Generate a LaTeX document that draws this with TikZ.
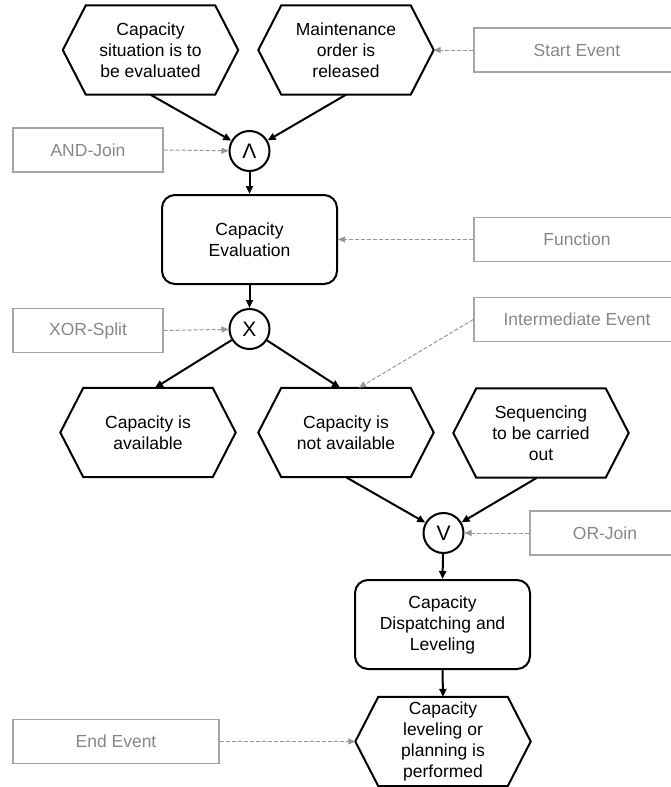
\documentclass[tikz,border=0pt]{standalone}
\usepackage{fontspec}
\setmainfont{Liberation Sans}
\usetikzlibrary{arrows.meta}
\definecolor{anntext}{RGB}{135,135,135}
\definecolor{annline}{RGB}{165,165,165}
\definecolor{anndash}{RGB}{150,150,150}
\begin{document}
\begin{tikzpicture}[x=1pt,y=-1pt,
  font=\fontsize{17.5}{21}\selectfont,
  evt/.style={minimum width=175pt,minimum height=89pt,inner sep=0pt,align=center},
  evline/.style={line width=2pt,line join=miter},
  fun/.style={draw,line width=2pt,rounded corners=13pt,minimum width=175pt,minimum height=89pt,align=center,inner sep=0pt},
  conn/.style={circle,draw,line width=2pt,minimum size=40pt,inner sep=0pt,font=\fontsize{21}{21}\selectfont},
  ann/.style={draw=annline,line width=1.3pt,text=anntext,minimum height=44pt,inner sep=0pt},
  flow/.style={line width=2pt,-{Triangle[length=8pt,width=7pt]}},
  hint/.style={draw=anndash,line width=1pt,dash pattern=on 4pt off 2pt,-{Triangle[length=7pt,width=6pt,fill=anndash]}}
]
\useasboundingbox (0,0) rectangle (671,787);
\clip (0,0) rectangle (671,787);

% events (hexagons)
\node[evt] (e1) at (150.5,50) {Capacity\\situation is to\\be evaluated};
\node[evt] (e2) at (346,50) {Maintenance\\order is\\released};
\node[evt] (avail) at (148,432.5) {Capacity is\\available};
\node[evt] (notavail) at (346,432.5) {Capacity is\\not available};
\node[evt] (seq) at (541,433) {Sequencing\\to be carried\\out};
\node[evt] (endev) at (443,741.5) {Capacity\\leveling or\\planning is\\performed};

\foreach \n in {e1,e2,avail,notavail,seq,endev}
  \draw[evline] (\n.west) -- ([xshift=23pt]\n.north west) -- ([xshift=-23pt]\n.north east)
     -- (\n.east) -- ([xshift=-23pt]\n.south east) -- ([xshift=23pt]\n.south west) -- cycle;

% functions
\node[fun] (capeval) at (249.5,239.5) {Capacity\\Evaluation};
\node[fun] (dispatch) at (442.5,624.5) {Capacity\\Dispatching and\\Leveling};

% connectors
\node[conn] (and) at (249.5,151) {Λ};
\node[conn] (xor) at (249.5,329) {X};
\node[conn] (or) at (443.5,533) {V};

% annotation boxes
\node[ann,minimum width=206pt] (startlbl) at (577,50) {Start Event};
\node[ann,minimum width=150pt] (andlbl) at (88,150) {AND-Join};
\node[ann,minimum width=206pt] (funclbl) at (577,239.5) {Function};
\node[ann,minimum width=150pt] (xorlbl) at (88,330.5) {XOR-Split};
\node[ann,minimum width=206pt] (interlbl) at (577,319.5) {Intermediate Event};
\node[ann,minimum width=150pt] (orlbl) at (605,533) {OR-Join};
\node[ann,minimum width=206pt] (endlbl) at (116,741.5) {End Event};

% flow
\draw[flow] (e1.south) -- (and);
\draw[flow] (e2.south) -- (and);
\draw[flow] (and) -- (capeval.north);
\draw[flow] (capeval.south) -- (xor);
\draw[flow] (xor) -- ([xshift=7pt]avail.north);
\draw[flow] (xor) -- ([xshift=-6pt]notavail.north);
\draw[flow] (notavail.south) -- (or);
\draw[flow] ([xshift=-4pt]seq.south) -- (or);
\draw[flow] (or) -- (dispatch.north);
\draw[flow] (dispatch.south) -- (endev.north);

% hints
\draw[hint] (startlbl.west) -- (e2.east);
\draw[hint] (andlbl.east) -- (and);
\draw[hint] (funclbl.west) -- (capeval.east);
\draw[hint] (xorlbl.east) -- (xor);
\draw[hint] (interlbl.west) -- ([xshift=13pt]notavail.north);
\draw[hint] (orlbl.west) -- (or);
\draw[hint] (endlbl.east) -- (endev.west);
\end{tikzpicture}
\end{document}
